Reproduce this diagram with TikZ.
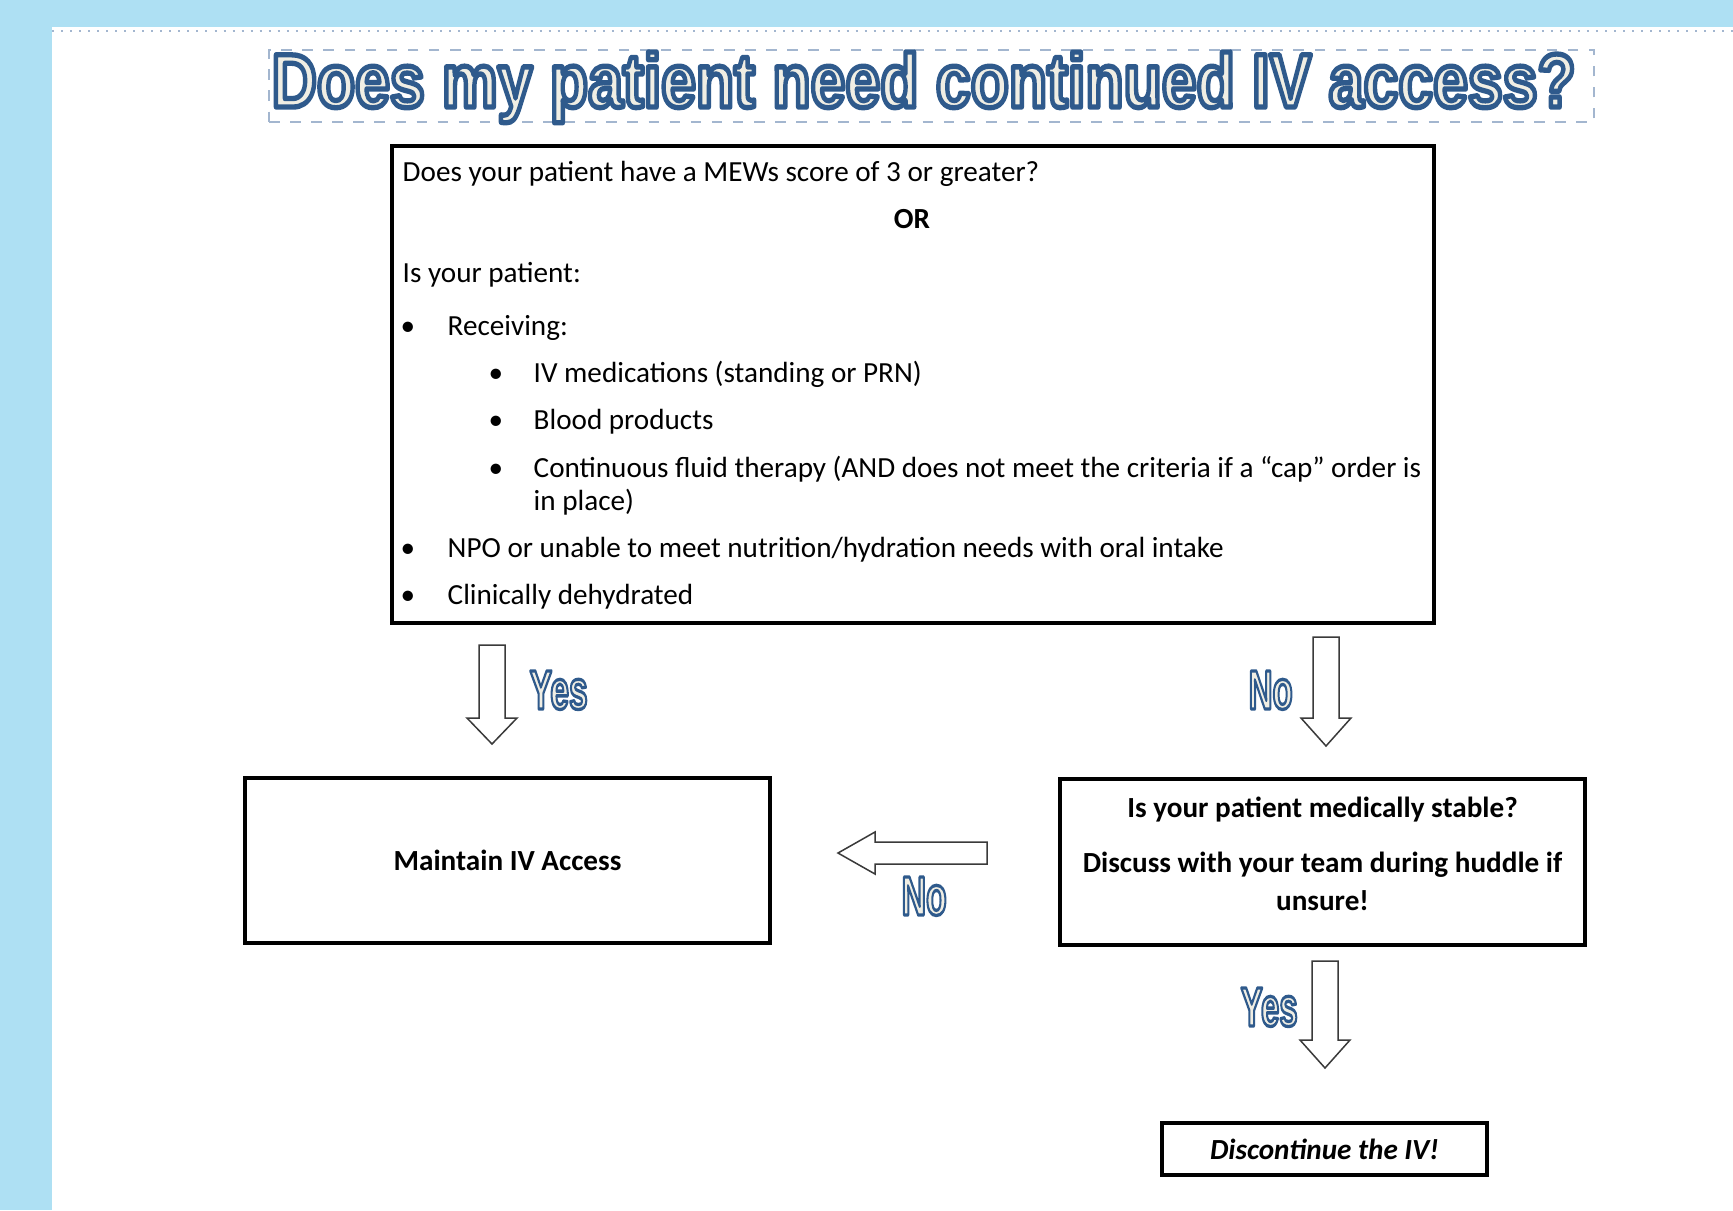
\documentclass[tikz,border=0pt]{standalone}
\usepackage{fontspec}
\setmainfont{Carlito}
\newfontfamily\headfont{Liberation Sans}
\usetikzlibrary{positioning}

\definecolor{skyback}{HTML}{AEE0F3}
\definecolor{headfill}{HTML}{F0EEE4}
\definecolor{dashblue}{HTML}{A3B6CF}
\definecolor{arrowline}{HTML}{3A3A3A}

% outlined heading letters: fill cream, stroke dark blue
\newcommand{\fancy}[4]{{\resizebox{#2}{#3}{\headfont\bfseries\color{headfill}%
  \special{pdf:literal direct 2 Tr #1 w 1 j 0.184 0.353 0.549 RG}#4\special{pdf:literal direct 0 Tr}}}}
\newcommand{\downblock}[4]{\draw[blockarrow] (#1-13,#2) -- (#1+13,#2) -- (#1+13,#3) -- (#1+25,#3) -- (#1,#4) -- (#1-25,#3) -- (#1-13,#3) -- cycle;}

\tikzset{
  txt/.style={anchor=base west, inner sep=0pt, font=\fontsize{8.3}{10}\selectfont},
  dot/.style={anchor=base, inner sep=0pt, font=\fontsize{8.3}{10}\selectfont},
  qbox/.style={draw, line width=0.45mm, inner sep=0pt, font=\fontsize{8.3}{10}\selectfont\bfseries},
  blockarrow/.style={draw=arrowline, fill=white, line width=0.15mm, line join=miter},
  lbl/.style={anchor=base west, inner sep=0pt}
}

\begin{document}
\begin{tikzpicture}[x=0.1mm,y=-0.1mm]
\useasboundingbox (0,0) rectangle (1733,1210);
\fill[skyback] (0,0) rectangle (1733,1210);
\fill[white] (52,27) rectangle (1733,1210);
\draw[dashblue, dotted, line width=0.2mm] (52,31) -- (1733,31);

% heading
\node[draw=dashblue, dashed, line width=0.15mm, minimum width=132.5mm, minimum height=7.2mm] (titlebox) at (931.5,86) {};
\node[lbl] (title) at (271,107) {\fancy{0.7}{130.4mm}{5.5mm}{Does my patient need continued IV access?}};

% question box
\node[qbox, minimum width=104.2mm, minimum height=47.7mm] (mainq) at (913,384.5) {};
\node[txt] (q1) at (402,181) {Does your patient have a MEWs score of 3 or greater?};
\node[dot, font=\fontsize{8.3}{10}\selectfont\bfseries] (or) at (912,228) {OR};
\node[txt] (q2) at (402,282) {Is your patient:};
\foreach \y in {335,557,604} \node[dot] (b\y) at (408,\y) {\textbullet};
\foreach \y in {382,429,477} \node[dot] (s\y) at (496,\y) {\textbullet};
\node[txt] (recv) at (447,335) {Receiving:};
\node[txt] (ivmed) at (533,382) {IV medications (standing or PRN)};
\node[txt] (blood) at (533,429) {Blood products};
\node[txt] (fluid) at (533,477) {Continuous fluid therapy (AND does not meet the criteria if a “cap” order is};
\node[txt] (fluid2) at (533,510) {in place)};
\node[txt] (npo) at (447,557) {NPO or unable to meet nutrition/hydration needs with oral intake};
\node[txt] (dehyd) at (447,604) {Clinically dehydrated};

% answers
\node[qbox, minimum width=52.5mm, minimum height=16.5mm] (maintain) at (507.5,860.5) {Maintain IV Access};
\node[qbox, minimum width=52.5mm, minimum height=16.6mm] (stable) at (1322.5,862) {};
\node[dot, anchor=center, align=center, font=\fontsize{8.3}{11}\selectfont\bfseries] (stabletxt) at (1322.5,854)
  {Is your patient medically stable?\\[4.6pt]Discuss with your team during huddle if\\unsure!};
\node[qbox, minimum width=32.5mm, minimum height=5.2mm, font=\fontsize{8.3}{10}\selectfont\bfseries\itshape] (stop) at (1324.5,1149) {Discontinue the IV!};

% arrows
\downblock{492}{645}{718}{744}
\downblock{1326}{637}{718}{746}
\downblock{1325}{961}{1040}{1068}
\draw[blockarrow] (987,842) -- (987,864) -- (875,864) -- (875,874) -- (838,853) -- (875,832) -- (875,842) -- cycle;

\node[lbl] (yes1) at (529,709) {\fancy{0.6}{5.8mm}{3.8mm}{Yes}};
\node[lbl] (no1) at (1248,709) {\fancy{0.6}{4.4mm}{3.8mm}{No}};
\node[lbl] (no2) at (901,915) {\fancy{0.6}{4.5mm}{3.8mm}{No}};
\node[lbl] (yes2) at (1240,1026) {\fancy{0.6}{5.7mm}{3.8mm}{Yes}};
\end{tikzpicture}
\end{document}
